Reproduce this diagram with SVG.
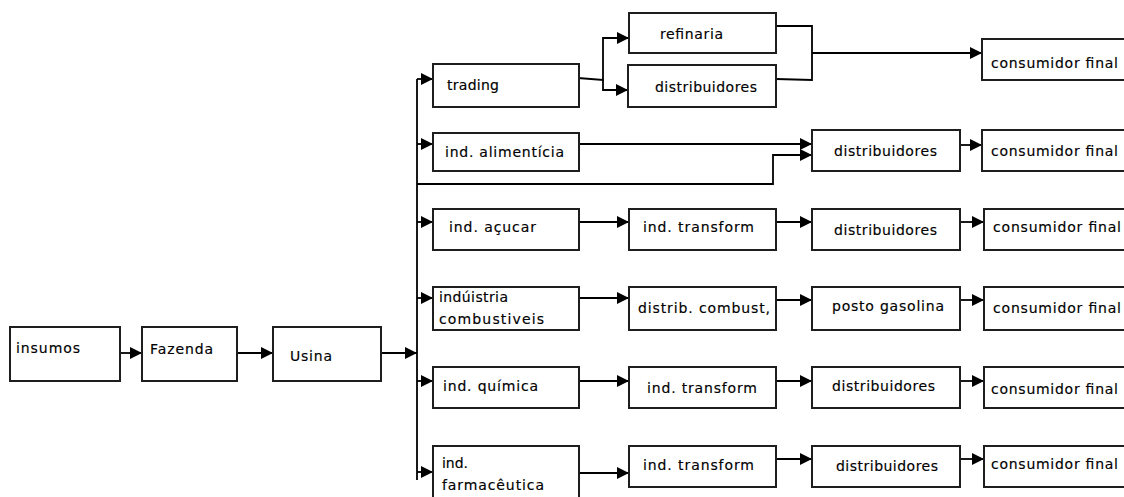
<svg xmlns="http://www.w3.org/2000/svg" width="1124" height="497" viewBox="0 0 1124 497">
<style>
.box{fill:#fff;stroke:#1e1e1e;stroke-width:2}
.t{font-family:"DejaVu Sans",sans-serif;font-size:14px;fill:#000;stroke:#000;stroke-width:0.15}
.c{fill:none;stroke:#000;stroke-width:1.8}
</style>
<defs>
<marker id="ah" viewBox="0 0 12 12" refX="12" refY="6" markerWidth="12" markerHeight="12" markerUnits="userSpaceOnUse" orient="auto">
<path d="M0,0 L12,6 L0,12 Z" fill="#000"/>
</marker>
</defs>
<rect width="1124" height="497" fill="#fff"/>
<g id="connectors">
<line class="c" x1="117" y1="353" x2="142" y2="353" marker-end="url(#ah)"/>
<line class="c" x1="236" y1="353" x2="273" y2="353" marker-end="url(#ah)"/>
<line class="c" x1="381" y1="353" x2="417" y2="353" marker-end="url(#ah)"/>
<line class="c" x1="417" y1="79" x2="417" y2="480"/>
<line class="c" x1="417" y1="79" x2="433" y2="79" marker-end="url(#ah)"/>
<line class="c" x1="417" y1="144" x2="433" y2="144" marker-end="url(#ah)"/>
<line class="c" x1="417" y1="222" x2="433" y2="222" marker-end="url(#ah)"/>
<line class="c" x1="417" y1="298" x2="433" y2="298" marker-end="url(#ah)"/>
<line class="c" x1="417" y1="381" x2="433" y2="381" marker-end="url(#ah)"/>
<line class="c" x1="417" y1="472" x2="433" y2="472" marker-end="url(#ah)"/>
<polyline class="c" points="578,78 603,80 603,38 629,38" marker-end="url(#ah)"/>
<polyline class="c" points="603,80 603,90 628,90" marker-end="url(#ah)"/>
<polyline class="c" points="776,26 812,26 812,80 776,79"/>
<line class="c" x1="812" y1="53" x2="982" y2="53" marker-end="url(#ah)"/>
<line class="c" x1="579" y1="144" x2="812" y2="144" marker-end="url(#ah)"/>
<polyline class="c" points="417,184 773,184 773,155 812,155" marker-end="url(#ah)"/>
<line class="c" x1="960" y1="145" x2="982" y2="145" marker-end="url(#ah)"/>
<line class="c" x1="579" y1="222" x2="629" y2="222" marker-end="url(#ah)"/>
<line class="c" x1="776" y1="222" x2="812" y2="222" marker-end="url(#ah)"/>
<line class="c" x1="960" y1="222" x2="984" y2="222" marker-end="url(#ah)"/>
<line class="c" x1="579" y1="298" x2="629" y2="298" marker-end="url(#ah)"/>
<line class="c" x1="776" y1="300" x2="812" y2="300" marker-end="url(#ah)"/>
<line class="c" x1="960" y1="300" x2="984" y2="300" marker-end="url(#ah)"/>
<line class="c" x1="579" y1="381" x2="629" y2="381" marker-end="url(#ah)"/>
<line class="c" x1="776" y1="381" x2="812" y2="381" marker-end="url(#ah)"/>
<line class="c" x1="960" y1="381" x2="984" y2="381" marker-end="url(#ah)"/>
<line class="c" x1="579" y1="473" x2="629" y2="473" marker-end="url(#ah)"/>
<line class="c" x1="776" y1="459" x2="812" y2="459" marker-end="url(#ah)"/>
<line class="c" x1="960" y1="459" x2="984" y2="459" marker-end="url(#ah)"/>
</g>
<g id="insumos"><rect class="box" x="10" y="327" width="110" height="54"/><text class="t" x="16" y="353" textLength="64" lengthAdjust="spacing">insumos</text></g>
<g id="fazenda"><rect class="box" x="142" y="327" width="95" height="54"/><text class="t" x="150" y="354" textLength="63" lengthAdjust="spacing">Fazenda</text></g>
<g id="usina"><rect class="box" x="273" y="327" width="108" height="54"/><text class="t" x="290" y="361" textLength="42" lengthAdjust="spacing">Usina</text></g>
<g id="trading"><rect class="box" x="433" y="64" width="146" height="43"/><text class="t" x="447" y="90" textLength="52" lengthAdjust="spacing">trading</text></g>
<g id="refinaria"><rect class="box" x="629" y="13" width="147" height="40"/><text class="t" x="660" y="39" textLength="63" lengthAdjust="spacing">refinaria</text></g>
<g id="distribuidores1"><rect class="box" x="628" y="65" width="148" height="42"/><text class="t" x="655" y="92" textLength="102" lengthAdjust="spacing">distribuidores</text></g>
<g id="consumidor1"><rect class="box" x="982" y="39" width="150" height="41"/><text class="t" x="991" y="68" textLength="127" lengthAdjust="spacing">consumidor final</text></g>
<g id="alimenticia"><rect class="box" x="433" y="133" width="146" height="38"/><text class="t" x="445" y="157" textLength="119" lengthAdjust="spacing">ind. alimentícia</text></g>
<g id="distribuidores2"><rect class="box" x="812" y="130" width="148" height="41"/><text class="t" x="834" y="156" textLength="103" lengthAdjust="spacing">distribuidores</text></g>
<g id="consumidor2"><rect class="box" x="982" y="130" width="150" height="41"/><text class="t" x="991" y="156" textLength="127" lengthAdjust="spacing">consumidor final</text></g>
<g id="acucar"><rect class="box" x="433" y="209" width="146" height="41"/><text class="t" x="449" y="232" textLength="87" lengthAdjust="spacing">ind. açucar</text></g>
<g id="transform3"><rect class="box" x="629" y="209" width="147" height="41"/><text class="t" x="643" y="232" textLength="111" lengthAdjust="spacing">ind. transform</text></g>
<g id="distribuidores3"><rect class="box" x="812" y="209" width="148" height="41"/><text class="t" x="834" y="235" textLength="103" lengthAdjust="spacing">distribuidores</text></g>
<g id="consumidor3"><rect class="box" x="984" y="209" width="148" height="41"/><text class="t" x="993" y="232" textLength="128" lengthAdjust="spacing">consumidor final</text></g>
<g id="combustiveis"><rect class="box" x="433" y="287" width="146" height="43"/><text class="t" x="439" y="302" textLength="69" lengthAdjust="spacing">indúistria</text><text class="t" x="439" y="324" textLength="105" lengthAdjust="spacing">combustiveis</text></g>
<g id="distribcombust"><rect class="box" x="629" y="287" width="147" height="43"/><text class="t" x="638" y="313" textLength="132" lengthAdjust="spacing">distrib. combust,</text></g>
<g id="posto"><rect class="box" x="812" y="287" width="148" height="43"/><text class="t" x="832" y="311" textLength="112" lengthAdjust="spacing">posto gasolina</text></g>
<g id="consumidor4"><rect class="box" x="984" y="287" width="148" height="43"/><text class="t" x="993" y="313" textLength="128" lengthAdjust="spacing">consumidor final</text></g>
<g id="quimica"><rect class="box" x="433" y="367" width="146" height="41"/><text class="t" x="443" y="391" textLength="95" lengthAdjust="spacing">ind. química</text></g>
<g id="transform5"><rect class="box" x="629" y="367" width="147" height="41"/><text class="t" x="647" y="393" textLength="110" lengthAdjust="spacing">ind. transform</text></g>
<g id="distribuidores5"><rect class="box" x="812" y="367" width="148" height="41"/><text class="t" x="832" y="391" textLength="103" lengthAdjust="spacing">distribuidores</text></g>
<g id="consumidor5"><rect class="box" x="984" y="367" width="148" height="41"/><text class="t" x="991" y="394" textLength="127" lengthAdjust="spacing">consumidor final</text></g>
<g id="farmaceutica"><rect class="box" x="433" y="446" width="146" height="60"/><text class="t" x="442" y="468" textLength="26" lengthAdjust="spacing">ind.</text><text class="t" x="442" y="490" textLength="102" lengthAdjust="spacing">farmacêutica</text></g>
<g id="transform6"><rect class="box" x="629" y="446" width="147" height="41"/><text class="t" x="643" y="470" textLength="111" lengthAdjust="spacing">ind. transform</text></g>
<g id="distribuidores6"><rect class="box" x="812" y="446" width="148" height="41"/><text class="t" x="836" y="471" textLength="102" lengthAdjust="spacing">distribuidores</text></g>
<g id="consumidor6"><rect class="box" x="984" y="446" width="148" height="41"/><text class="t" x="991" y="469" textLength="127" lengthAdjust="spacing">consumidor final</text></g>
</svg>
